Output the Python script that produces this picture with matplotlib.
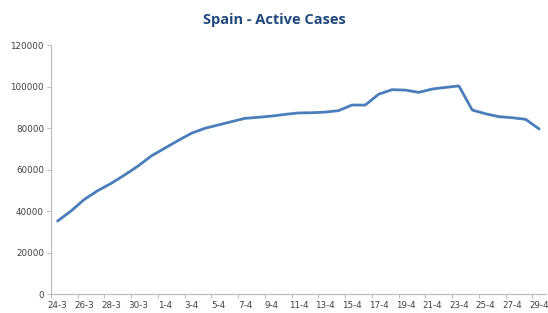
import matplotlib
matplotlib.use("Agg")
import matplotlib.pyplot as plt
import numpy as np

dates = ["24-3", "25-3", "26-3", "27-3", "28-3", "29-3", "30-3", "31-3"] + [f"{d}-4" for d in range(1, 30)]
active = [35300, 40100, 45700, 49900, 53400, 57400, 61700, 66600, 70300, 74000,
          77500, 79900, 81500, 83100, 84700, 85200, 85800, 86600, 87300, 87400,
          87700, 88400, 91100, 91100, 96300, 98500, 98300, 97200, 98800, 99600,
          100300, 88700, 86900, 85500, 85000, 84200, 79600]
yticks = [0, 20000, 40000, 60000, 80000, 100000, 120000]

fig = plt.figure(figsize=(5.48, 3.13), dpi=100)
ax = fig.add_axes([0.093, 0.0597, 0.903, 0.7965])
x = np.arange(len(dates))
ax.plot(x, active, color="#4A7EBB", lw=2.0, solid_capstyle="round", solid_joinstyle="round")
ax.set_xlim(-0.5, len(dates) - 0.5)
ax.set_ylim(0, 120000)
ax.set_yticks(yticks)
ax.set_yticklabels([str(v) for v in yticks])
ax.set_xticks(x[::2])
ax.set_xticklabels(dates[::2])
ax.set_xticks(np.arange(-0.5, len(dates), 2), minor=True)
ax.tick_params(axis="x", which="major", length=0, labelsize=6.3, labelcolor="#404040", pad=5)
ax.tick_params(axis="x", which="minor", length=3, color="#BFBFBF", width=0.8)
ax.tick_params(axis="y", length=3, color="#BFBFBF", width=0.8, labelsize=6.3, labelcolor="#404040", pad=2)
for s in ["top", "right"]:
    ax.spines[s].set_visible(False)
for s in ["left", "bottom"]:
    ax.spines[s].set_color("#BFBFBF")
    ax.spines[s].set_linewidth(0.9)
fig.text(0.5, 0.935, "Spain - Active Cases", ha="center", va="center",
         fontsize=10.5, fontweight="bold", color="#1F497D", family="Open Sans")
fig.savefig("out.png", dpi=100)
